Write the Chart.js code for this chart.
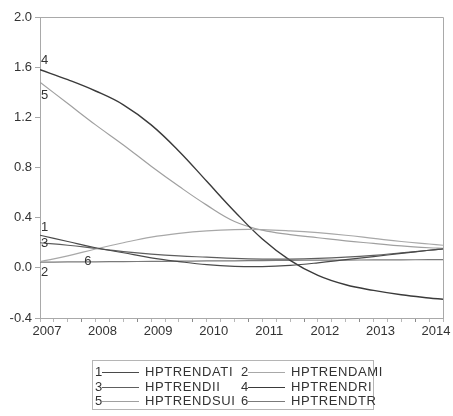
<!DOCTYPE html>
<html>
<head>
<meta charset="utf-8">
<script src="https://cdn.jsdelivr.net/npm/chart.js@4/dist/chart.umd.min.js"></script>
<style>
  html, body { margin: 0; padding: 0; background: #fff; }
  #wrap { position: relative; width: 453px; height: 416px; }
  #c { position: absolute; left: 0; top: 0; }
  #legend {
    position: absolute; left: 92px; top: 360px; width: 282px; height: 50px;
    border: 1px solid #b5b5b5; box-sizing: border-box;
    font-family: "Liberation Sans", Arial, sans-serif; font-size: 13px; color: #333;
  }
  .row { position: absolute; left: 0; height: 14px; width: 100%; }
  .num { position: absolute; width: 8px; line-height: 14px; }
  .swatch { position: absolute; top: 7px; height: 0; width: 37px; }
  .name { position: absolute; line-height: 14px; letter-spacing: 0.6px; }
</style>
</head>
<body>
<div id="wrap">
  <canvas id="c" width="453" height="416"></canvas>
  <div id="legend"></div>
</div>
<script>
// Quarterly HP-filter trends, 2007Q1 .. 2014Q2 (quarter index 0..29)
const quarterIdx = [0, 2, 4, 6, 8, 10, 12, 14, 16, 18, 20, 22, 24, 26, 28, 29];
const yearLabels = ['2007', '2008', '2009', '2010', '2011', '2012', '2013', '2014'];
const yTicks = [-0.4, 0.0, 0.4, 0.8, 1.2, 1.6, 2.0];

const seriesNames = ['HPTRENDATI', 'HPTRENDAMI', 'HPTRENDII', 'HPTRENDRI', 'HPTRENDSUI', 'HPTRENDTR'];
const hpTrendATI = [0.26, 0.21, 0.16, 0.12, 0.08, 0.05, 0.025, 0.012, 0.01, 0.02, 0.04, 0.065, 0.09, 0.115, 0.14, 0.15];
const hpTrendAMI = [0.05, 0.095, 0.15, 0.2, 0.245, 0.275, 0.295, 0.305, 0.305, 0.295, 0.28, 0.26, 0.235, 0.21, 0.19, 0.18];
const hpTrendII  = [0.20, 0.18, 0.155, 0.13, 0.11, 0.095, 0.085, 0.075, 0.07, 0.07, 0.075, 0.085, 0.10, 0.12, 0.14, 0.15];
const hpTrendRI  = [1.58, 1.50, 1.41, 1.30, 1.14, 0.93, 0.69, 0.45, 0.23, 0.06, -0.06, -0.135, -0.18, -0.215, -0.24, -0.25];
const hpTrendSUI = [1.48, 1.31, 1.14, 0.98, 0.81, 0.65, 0.50, 0.37, 0.30, 0.265, 0.24, 0.215, 0.195, 0.175, 0.16, 0.155];
const hpTrendTR  = [0.045, 0.047, 0.048, 0.05, 0.051, 0.053, 0.055, 0.056, 0.058, 0.06, 0.061, 0.062, 0.063, 0.064, 0.065, 0.065];

const seriesValues = [hpTrendATI, hpTrendAMI, hpTrendII, hpTrendRI, hpTrendSUI, hpTrendTR];
const lineColors = ['#4a4a4a', '#a8a8a8', '#5e5e5e', '#3a3a3a', '#a0a0a0', '#7a7a7a'];
const lineWidths = [1.2, 1.2, 1.2, 1.4, 1.2, 1.2];

// in-plot series numbers: [series, quarter, offset in px]
const inlineTags = [
  { ds: 0, q: 0, dy: -8 },
  { ds: 1, q: 0, dy: 11 },
  { ds: 2, q: 0, dy: 1 },
  { ds: 3, q: 0, dy: -9 },
  { ds: 4, q: 0, dy: 13 },
  { ds: 5, q: 3.45, dy: 0 }
];

const LAST_Q = 29;
const labelTicks = yearLabels.map((y, i) => 0.5 + 4 * i);
const quarterTicks = Array.from({ length: LAST_Q + 1 }, (_, i) => i);

const datasets = seriesValues.map((vals, i) => ({
  label: seriesNames[i],
  data: vals.map((v, k) => ({ x: quarterIdx[k], y: v })),
  borderColor: lineColors[i],
  borderWidth: lineWidths[i],
  pointRadius: 0,
  fill: false,
  tension: 0.4
}));

const frame = {
  id: 'frame',
  afterDraw(chart) {
    const { ctx, chartArea: a } = chart;
    ctx.save();
    ctx.strokeStyle = '#a9a9a9';
    ctx.lineWidth = 1;
    ctx.beginPath();
    ctx.moveTo(a.left, a.top + 0.5);
    ctx.lineTo(a.right + 0.5, a.top + 0.5);
    ctx.lineTo(a.right + 0.5, a.bottom);
    ctx.stroke();
    ctx.restore();
  }
};

const tags = {
  id: 'tags',
  afterDatasetsDraw(chart) {
    const { ctx, scales } = chart;
    ctx.save();
    ctx.font = '13px "Liberation Sans", Arial, sans-serif';
    ctx.fillStyle = '#333';
    ctx.textBaseline = 'middle';
    inlineTags.forEach(t => {
      const vals = seriesValues[t.ds];
      let v;
      if (t.q === 0) v = vals[0];
      else {
        let k = 0;
        while (k < quarterIdx.length - 2 && quarterIdx[k + 1] < t.q) k++;
        const f = (t.q - quarterIdx[k]) / (quarterIdx[k + 1] - quarterIdx[k]);
        v = vals[k] + f * (vals[k + 1] - vals[k]);
      }
      const px = scales.x.getPixelForValue(t.q);
      const py = scales.y.getPixelForValue(v) + t.dy;
      ctx.textAlign = t.q === 0 ? 'left' : 'center';
      ctx.fillText(String(t.ds + 1), t.q === 0 ? px + 1 : px, py);
    });
    ctx.restore();
  }
};

new Chart(document.getElementById('c'), {
  type: 'line',
  data: { datasets },
  plugins: [frame, tags],
  options: {
    responsive: false,
    animation: false,
    layout: { padding: { left: 0, top: 17, right: 10, bottom: 76 } },
    plugins: { legend: { display: false }, tooltip: { enabled: false } },
    scales: {
      x: {
        type: 'linear',
        min: 0,
        max: LAST_Q,
        afterBuildTicks(scale) {
          scale.ticks = quarterTicks.concat(labelTicks).sort((a, b) => a - b).map(v => ({ value: v }));
        },
        afterFit(scale) { scale.height = 22; },
        ticks: {
          autoSkip: false,
          maxRotation: 0,
          padding: 2,
          color: '#333',
          font: { family: '"Liberation Sans", Arial, sans-serif', size: 13 },
          callback(value) {
            const i = labelTicks.indexOf(value);
            return i >= 0 ? yearLabels[i] : '';
          }
        },
        grid: {
          drawOnChartArea: false,
          drawTicks: true,
          tickLength: 4,
          tickColor(ctx) {
            const v = ctx.tick ? ctx.tick.value : 0;
            if (labelTicks.indexOf(v) >= 0) return 'rgba(0,0,0,0)';
            return (v % 4 === 3) ? '#8a8a8a' : '#b8b8b8';
          }
        },
        border: { color: '#a9a9a9', width: 1 }
      },
      y: {
        min: -0.4,
        max: 2.0,
        afterBuildTicks(scale) { scale.ticks = yTicks.map(v => ({ value: v })); },
        afterFit(scale) { scale.width = 40; },
        ticks: {
          padding: 3,
          color: '#333',
          font: { family: '"Liberation Sans", Arial, sans-serif', size: 13 },
          callback(value) { return Number(value).toFixed(1); }
        },
        grid: { drawOnChartArea: false, drawTicks: true, tickLength: 5, tickColor: '#a9a9a9' },
        border: { color: '#a9a9a9', width: 1 }
      }
    }
  }
});

// legend: two columns, three rows
const legend = document.getElementById('legend');
const colLeft = [2, 148];
for (let i = 0; i < seriesNames.length; i++) {
  const r = Math.floor(i / 2), c = i % 2;
  const row = document.createElement('div');
  row.className = 'row';
  row.style.top = (4 + r * 14.5) + 'px';
  const x0 = colLeft[c];
  row.innerHTML =
    '<span class="num" style="left:' + x0 + 'px">' + (i + 1) + '</span>' +
    '<span class="swatch" style="left:' + (x0 + 7) + 'px;border-top:1.2px solid ' + lineColors[i] + '"></span>' +
    '<span class="name" style="left:' + (x0 + 50) + 'px">' + seriesNames[i] + '</span>';
  legend.appendChild(row);
}
</script>
</body>
</html>
